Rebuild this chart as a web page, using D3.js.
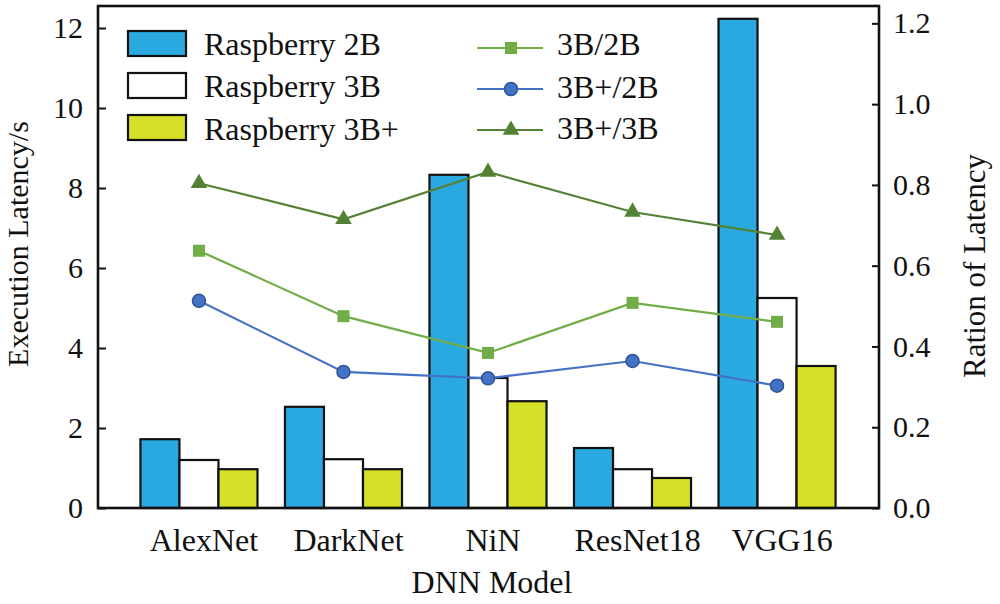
<!DOCTYPE html>
<html>
<head>
<meta charset="utf-8">
<script src="https://cdn.jsdelivr.net/npm/d3@7"></script>
<style>
  body { margin: 0; background: #fff; }
  svg { font-family: "Liberation Serif", "Times New Roman", serif; }
</style>
</head>
<body>
<div id="canvas"></div>
<script>
var w = 1000;
var h = 604;

// data
const models = ["AlexNet", "DarkNet", "NiN", "ResNet18", "VGG16"];
const boards = ["Raspberry 2B", "Raspberry 3B", "Raspberry 3B+"];
const latency2B = [1.72, 2.53, 8.33, 1.5, 12.23];
const latency3B = [1.2, 1.22, 3.25, 0.97, 5.25];
const latency3Bp = [0.97, 0.97, 2.67, 0.75, 3.55];
const ratioNames = ["3B/2B", "3B+/2B", "3B+/3B"];
const ratio3B_2B = [0.637, 0.475, 0.384, 0.508, 0.461];
const ratio3Bp_2B = [0.513, 0.337, 0.321, 0.364, 0.303];
const ratio3Bp_3B = [0.804, 0.715, 0.832, 0.733, 0.676];
const leftTicks = [0, 2, 4, 6, 8, 10, 12];
const rightTicks = [0, 0.2, 0.4, 0.6, 0.8, 1.0, 1.2];

const barFill = ["#29a9e0", "#ffffff", "#d5e027"];
const lineColor = ["#70ad47", "#4472c4", "#548235"];
const markerFill = ["#70ad47", "#4472c4", "#548235"];
const markerStroke = ["#70ad47", "#2f5597", "#548235"];

const pLeft = 98, pRight = 879, pTop = 6, pBottom = 508;

const svg = d3.select("#canvas")
    .append("svg")
    .attr("width", w)
    .attr("height", h);

const x = d3.scaleBand()
    .domain(models)
    .range([126.7, 849.3])
    .paddingInner(0.19)
    .paddingOuter(0.095);

const xSub = d3.scaleBand()
    .domain(boards)
    .range([0, x.bandwidth()]);

const yL = d3.scaleLinear().domain([0, 12.55]).range([pBottom, pTop]);
const yR = d3.scaleLinear().domain([0, 1.243]).range([pBottom, pTop]);

// bars
const barSeries = [latency2B, latency3B, latency3Bp];
const barsGroup = svg.append("g");
barSeries.forEach(function(vals, s) {
    barsGroup.selectAll(".bar" + s)
        .data(models)
        .enter()
        .append("rect")
        .attr("x", d => x(d) + xSub(boards[s]))
        .attr("y", (d, i) => yL(vals[i]))
        .attr("width", xSub.bandwidth())
        .attr("height", (d, i) => pBottom - yL(vals[i]))
        .attr("fill", barFill[s])
        .attr("stroke", "#111")
        .attr("stroke-width", 2.2);
});

// lines
const ratioSeries = [ratio3B_2B, ratio3Bp_2B, ratio3Bp_3B];
const cx = d => x(d) + x.bandwidth() / 2;
const line = d3.line()
    .x(d => cx(d.m))
    .y(d => yR(d.v));

function drawMarker(g, s, px, py) {
    if (s === 0) {
        g.append("rect")
            .attr("x", px - 6).attr("y", py - 6)
            .attr("width", 12).attr("height", 12)
            .attr("fill", markerFill[s]);
    } else if (s === 1) {
        g.append("circle")
            .attr("cx", px).attr("cy", py).attr("r", 6.5)
            .attr("fill", markerFill[s])
            .attr("stroke", markerStroke[s])
            .attr("stroke-width", 1.5);
    } else {
        g.append("path")
            .attr("d", d3.symbol().type(d3.symbolTriangle).size(120)())
            .attr("transform", "translate(" + px + "," + py + ")")
            .attr("fill", markerFill[s]);
    }
}

const linesGroup = svg.append("g");
ratioSeries.forEach(function(vals, s) {
    const pts = models.map((m, i) => ({m: m, v: vals[i]}));
    linesGroup.append("path")
        .attr("d", line(pts))
        .attr("fill", "none")
        .attr("stroke", lineColor[s])
        .attr("stroke-width", 2.2);
    pts.forEach(p => drawMarker(linesGroup, s, cx(p.m), yR(p.v)));
});

// frame
svg.append("rect")
    .attr("x", pLeft)
    .attr("y", pTop)
    .attr("width", pRight - pLeft)
    .attr("height", pBottom - pTop)
    .attr("fill", "none")
    .attr("stroke", "#111")
    .attr("stroke-width", 2.6);

// axes
const axL = svg.append("g")
    .attr("transform", "translate(" + pLeft + ",0)")
    .call(d3.axisLeft(yL).tickValues(leftTicks).tickSize(-8).tickPadding(15));
const axR = svg.append("g")
    .attr("transform", "translate(" + pRight + ",0)")
    .call(d3.axisRight(yR).tickValues(rightTicks).tickSize(-7).tickPadding(14)
        .tickFormat(d3.format(".1f")));
const axB = svg.append("g")
    .attr("transform", "translate(0," + pBottom + ")")
    .call(d3.axisBottom(x).tickSize(0).tickPadding(20));

[axL, axR, axB].forEach(function(a) {
    a.select(".domain").remove();
    a.selectAll("line").attr("stroke", "#111").attr("stroke-width", 2);
    a.selectAll("text")
        .attr("fill", "#111")
        .style("font-family", "'Liberation Serif', 'Times New Roman', serif");
});
axL.selectAll("text").style("font-size", "30px");
axR.selectAll("text").style("font-size", "30px");
axB.selectAll("text").style("font-size", "32px").attr("dx", 5);

// axis titles
svg.append("text")
    .attr("transform", "translate(28,244) rotate(-90)")
    .attr("text-anchor", "middle")
    .style("font-size", "30px")
    .attr("fill", "#111")
    .text("Execution Latency/s");

svg.append("text")
    .attr("transform", "translate(985,266) rotate(-90)")
    .attr("text-anchor", "middle")
    .style("font-size", "31px")
    .attr("fill", "#111")
    .text("Ration of Latency");

svg.append("text")
    .attr("x", 492)
    .attr("y", 593)
    .attr("text-anchor", "middle")
    .style("font-size", "32px")
    .attr("fill", "#111")
    .text("DNN Model");

// legend for bars
const legBoxY = [31, 73, 115];
const legTextY = [55, 97, 140];
boards.forEach(function(b, s) {
    svg.append("rect")
        .attr("x", 128).attr("y", legBoxY[s])
        .attr("width", 58).attr("height", 25)
        .attr("fill", barFill[s])
        .attr("stroke", "#111")
        .attr("stroke-width", 2.2);
    svg.append("text")
        .attr("x", 204).attr("y", legTextY[s])
        .style("font-size", "32px")
        .attr("fill", "#111")
        .text(b);
});

// legend for lines
const legLineY = [48, 89, 130];
const legLineTextY = [55, 98, 139];
ratioNames.forEach(function(n, s) {
    svg.append("line")
        .attr("x1", 477).attr("x2", 543)
        .attr("y1", legLineY[s]).attr("y2", legLineY[s])
        .attr("stroke", lineColor[s])
        .attr("stroke-width", 2.2);
    drawMarker(svg, s, 511, legLineY[s]);
    svg.append("text")
        .attr("x", 557).attr("y", legLineTextY[s])
        .style("font-size", "32px")
        .attr("fill", "#111")
        .text(n);
});
</script>
</body>
</html>
